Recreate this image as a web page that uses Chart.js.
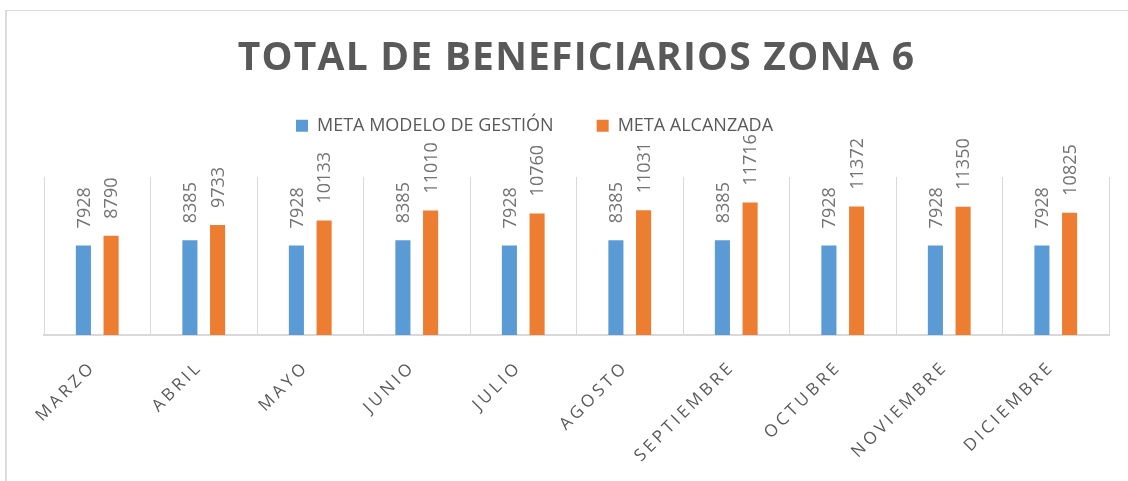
<!DOCTYPE html>
<html>
<head>
<meta charset="utf-8">
<script src="https://cdn.jsdelivr.net/npm/chart.js@4.4.0/dist/chart.umd.min.js"></script>
<style>
  html, body { margin: 0; padding: 0; background: #ffffff; }
  #wrap { position: relative; width: 1128px; height: 481px; overflow: hidden; }
  #frame { position: absolute; left: 5px; top: 10px; width: 1200px; height: 600px;
           border-left: 2px solid #DCDCDC; border-top: 1px solid #D9D9D9; pointer-events: none; }
  canvas { position: absolute; left: 0; top: 0; }
</style>
</head>
<body>
<div id="wrap">
  <canvas id="c" width="1128" height="481"></canvas>
  <div id="frame"></div>
</div>
<script>
const titleText = 'TOTAL DE BENEFICIARIOS ZONA 6';
const categories = ['MARZO', 'ABRIL', 'MAYO', 'JUNIO', 'JULIO', 'AGOSTO', 'SEPTIEMBRE', 'OCTUBRE', 'NOVIEMBRE', 'DICIEMBRE'];
const seriesNames = ['META MODELO DE GESTIÓN', 'META ALCANZADA'];
const metaModelo = [7928, 8385, 7928, 8385, 7928, 8385, 8385, 7928, 7928, 7928];
const metaAlcanzada = [8790, 9733, 10133, 11010, 10760, 11031, 11716, 11372, 11350, 10825];
const yMin = 0;
const yMax = 14000;

const GRAY = '#595959';
const GRID = '#D9D9D9';

const setupPlugin = {
  id: 'setup',
  afterInit(chart) {
    const lg = chart.legend;
    if (lg && !lg._patched) {
      const origFit = lg.fit;
      lg.fit = function () { origFit.call(this); this.height += 32; };
      const origDraw = lg.draw;
      lg.draw = function (a) {
        const ctx = this.ctx;
        ctx.save(); ctx.translate(-42, 0);
        origDraw.call(this, a);
        ctx.restore();
      };
      lg._patched = true;
    }
    const tb = chart.titleBlock;
    if (tb && !tb._patched) {
      const origDraw = tb.draw;
      tb.draw = function (a) {
        const ctx = this.ctx;
        ctx.save(); ctx.letterSpacing = '1.2px';
        origDraw.call(this, a);
        ctx.restore();
      };
      tb._patched = true;
    }
  },
  beforeDraw(chart) {
    const sx = chart.scales.x;
    if (sx && !sx._patched) {
      const proto = Object.getPrototypeOf(sx);
      sx.drawLabels = function (a) {
        const ctx = this.ctx;
        ctx.save(); ctx.translate(-4, 0); ctx.letterSpacing = '3.5px';
        proto.drawLabels.call(this, a);
        ctx.restore();
      };
      sx._patched = true;
    }
  }
};

const valueLabels = {
  id: 'valueLabels',
  afterDatasetsDraw(chart) {
    const ctx = chart.ctx;
    ctx.save();
    ctx.font = '18px "Open Sans"';
    ctx.fillStyle = '#737373';
    ctx.textAlign = 'left';
    ctx.textBaseline = 'middle';
    chart.data.datasets.forEach((ds, di) => {
      const meta = chart.getDatasetMeta(di);
      meta.data.forEach((el, i) => {
        ctx.save();
        ctx.translate(el.x + 1, el.y - 17);
        ctx.rotate(-Math.PI / 2);
        ctx.fillText(String(ds.data[i]), 0, 0);
        ctx.restore();
      });
    });
    ctx.restore();
  }
};

new Chart(document.getElementById('c'), {
  type: 'bar',
  data: {
    labels: categories,
    datasets: [
      { label: seriesNames[0], data: metaModelo, backgroundColor: '#5B9BD5', borderWidth: 0,
        categoryPercentage: 0.52, barPercentage: 0.545 },
      { label: seriesNames[1], data: metaAlcanzada, backgroundColor: '#ED7D31', borderWidth: 0,
        categoryPercentage: 0.52, barPercentage: 0.545 }
    ]
  },
  options: {
    responsive: false,
    animation: false,
    devicePixelRatio: 1,
    layout: { padding: { left: 44, right: 19, top: 0, bottom: 0 } },
    plugins: {
      title: {
        display: true,
        text: titleText,
        color: GRAY,
        font: { family: '"Open Sans"', size: 39, weight: 'bold', lineHeight: 1.2 },
        padding: { top: 35, bottom: -8 }
      },
      legend: {
        display: true,
        position: 'top',
        labels: {
          color: GRAY,
          font: { family: '"Open Sans"', size: 18 },
          boxWidth: 12,
          boxHeight: 12,
          padding: 43
        }
      },
      tooltip: { enabled: false }
    },
    scales: {
      x: {
        grid: { display: true, color: GRID, lineWidth: 1, offset: true, drawTicks: false },
        border: { display: true, color: GRID, width: 2 },
        ticks: {
          color: GRAY,
          font: { family: '"Open Sans"', size: 17 },
          maxRotation: 45,
          minRotation: 45,
          padding: 22,
          autoSkip: false
        },
        afterFit(scale) { scale.height = 146; }
      },
      y: {
        display: false,
        min: yMin,
        max: yMax
      }
    }
  },
  plugins: [setupPlugin, valueLabels]
});
</script>
</body>
</html>
